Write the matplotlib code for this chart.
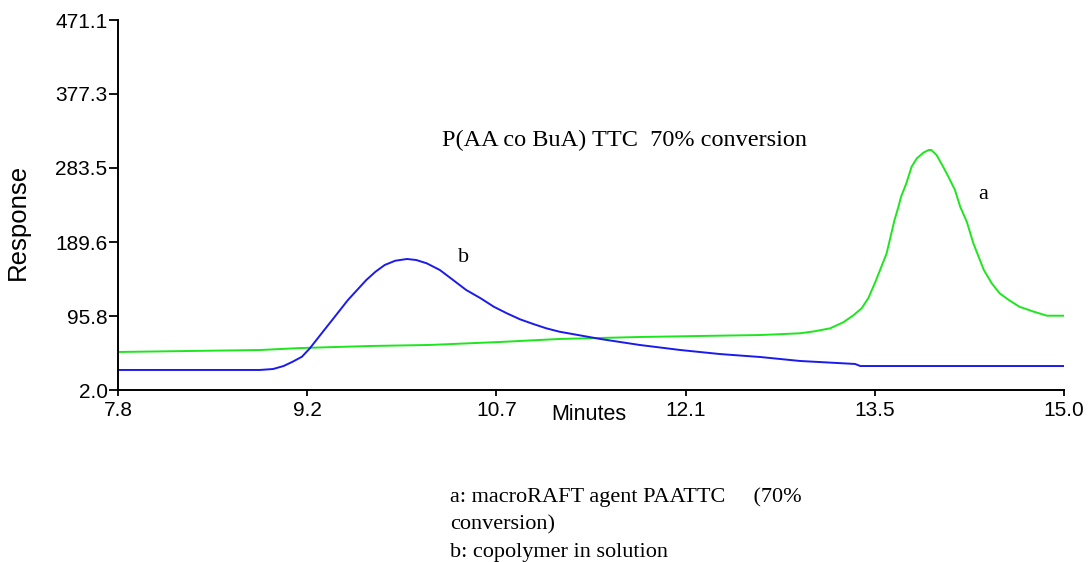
import matplotlib
matplotlib.use("Agg")
import matplotlib.pyplot as plt

# ---- data ----
x_ticks = [7.8, 9.24, 10.68, 12.12, 13.56, 15.0]
x_tick_labels = ["7.8", "9.2", "10.7", "12.1", "13.5", "15.0"]
y_ticks = [2.0, 95.8, 189.6, 283.5, 377.3, 471.1]
y_tick_labels = ["2.0", "95.8", "189.6", "283.5", "377.3", "471.1"]

# curve a: macroRAFT agent PAATTC (green)
a_time = [7.80, 8.88, 9.19, 9.72, 10.17, 10.71, 11.16, 11.77, 12.23, 12.69,
          12.99, 13.10, 13.22, 13.32, 13.40, 13.46, 13.51, 13.56, 13.61, 13.65,
          13.68, 13.71, 13.74, 13.76, 13.80, 13.84, 13.88, 13.93, 13.97, 13.99,
          14.03, 14.08, 14.12, 14.17, 14.21, 14.26, 14.31, 14.35, 14.39, 14.45,
          14.51, 14.58, 14.66, 14.77, 14.87, 15.00]
a_resp = [50.2, 52.7, 55.2, 57.8, 59.1, 62.9, 66.7, 69.2, 70.5, 71.7,
          73.9, 76.4, 80.2, 87.8, 97.1, 105.6, 118.3, 137.3, 158.3, 175.3,
          196.4, 217.5, 234.4, 247.1, 264.0, 285.1, 295.7, 302.9, 306.3, 306.3,
          299.9, 285.1, 272.4, 255.6, 234.4, 215.4, 188.0, 171.0, 154.1, 137.3,
          124.6, 116.1, 107.6, 101.3, 96.2, 96.2]

# curve b: copolymer in solution (blue)
b_time = [7.80, 8.88, 8.98, 9.06, 9.13, 9.20, 9.26, 9.31, 9.38, 9.43,
          9.49, 9.55, 9.62, 9.69, 9.76, 9.83, 9.91, 10.00, 10.07, 10.15,
          10.25, 10.35, 10.45, 10.56, 10.66, 10.76, 10.86, 10.96, 11.06, 11.16,
          11.47, 11.77, 12.08, 12.38, 12.69, 12.99, 13.41, 13.45, 15.00]
b_resp = [27.4, 27.4, 28.6, 32.4, 37.9, 44.2, 54.8, 65.4, 80.2, 90.7,
          103.4, 116.1, 128.8, 141.5, 152.0, 160.5, 165.9, 168.1, 166.8, 162.6,
          154.1, 141.5, 128.8, 118.3, 107.6, 99.2, 91.6, 85.7, 80.2, 75.9,
          66.7, 59.1, 52.7, 47.6, 43.8, 38.8, 35.0, 32.4, 32.4]

title = "P(AA co BuA) TTC  70% conversion"
caption = ["a: macroRAFT agent PAATTC     (70%", "conversion)", "b: copolymer in solution"]

W, H = 1088, 562
fig = plt.figure(figsize=(W / 100, H / 100), dpi=100)
ax = fig.add_axes([118 / W, 1 - 390 / H, (1064 - 118) / W, (390 - 20) / H])

ax.plot(a_time, a_resp, color="#1ee61e", lw=1.4)
ax.plot(b_time, b_resp, color="#1a1aee", lw=1.4)

ax.set_xlim(7.8, 15.0)
ax.set_ylim(2.0, 471.1)
for s in ["top", "right"]:
    ax.spines[s].set_visible(False)
for s in ["left", "bottom"]:
    ax.spines[s].set_linewidth(1.4)

sans = "Liberation Sans"
ax.set_xticks(x_ticks)
ax.set_xticklabels(x_tick_labels, fontsize=15, family=sans)
ax.set_yticks(y_ticks)
ax.set_yticklabels(y_tick_labels, fontsize=15, family=sans)
ax.tick_params(axis="x", direction="out", length=4, width=1.3, pad=4)
ax.tick_params(axis="y", direction="out", length=6.5, width=1.3, pad=1)

fig.text(589 / W, 1 - 414 / H, "Minutes", ha="center", va="center", fontsize=15.5, family=sans)
fig.text(18 / W, 1 - 222 / H, "Response", ha="center", va="center", rotation=90,
         fontsize=18.5, family=sans)

serif = "Liberation Serif"
fig.text(624 / W, 1 - 140 / H, title, ha="center", va="center", fontsize=17.5, family=serif)
fig.text(464 / W, 1 - 258 / H, "b", ha="center", va="center", fontsize=16, family=serif)
fig.text(983 / W, 1 - 195 / H, "a", ha="center", va="center", fontsize=16, family=serif)

for i, line in enumerate(caption):
    fig.text(450 / W, 1 - (497 + 27.5 * i) / H, line, ha="left", va="center",
             fontsize=16, family=serif)

fig.savefig("out.png", dpi=100)
